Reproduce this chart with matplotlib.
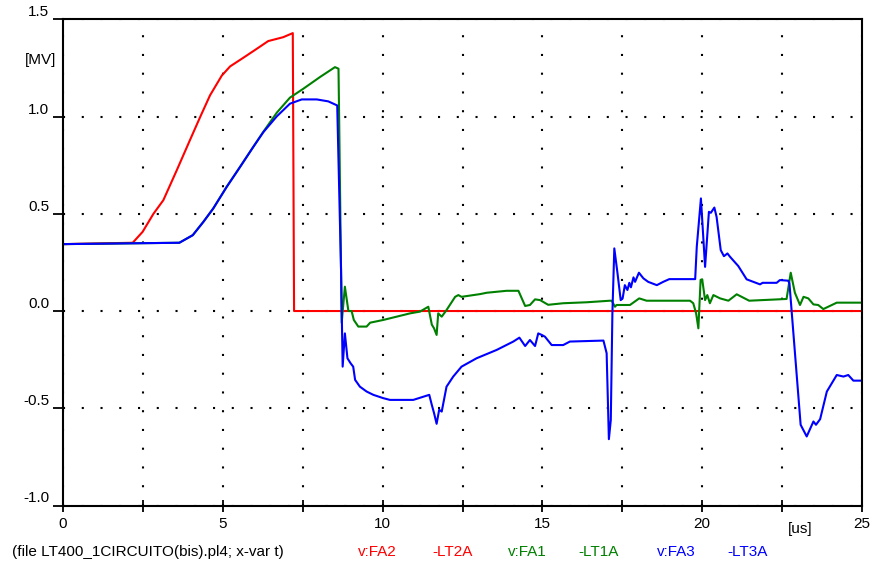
import numpy as np
import matplotlib.pyplot as plt

plt.rcParams['font.family'] = ['Liberation Sans', 'DejaVu Sans']

# v:FA2 -LT2A (red)
t_fa2 = [0.0, 2.18, 2.49, 2.83, 3.14, 3.56, 3.97, 4.29, 4.60, 4.97, 5.23, 5.64,
         6.06, 6.42, 6.89, 7.19, 7.23, 25.0]
v_fa2 = [0.344, 0.351, 0.407, 0.50, 0.57, 0.724, 0.878, 0.997, 1.109, 1.211, 1.258, 1.302,
         1.348, 1.388, 1.408, 1.429, 0.0, 0.0]

# v:FA1 -LT1A (green)
t_fa1 = [0.0, 3.64, 4.06, 4.39, 4.70, 5.12, 5.54, 5.95, 6.27, 6.69, 7.10, 7.52, 8.04,
         8.51, 8.62, 8.64, 8.72, 8.82, 8.93, 9.03, 9.10, 9.24, 9.50, 9.61, 10.02, 10.44,
         10.86, 11.17, 11.43, 11.54, 11.61, 11.69, 11.74, 11.85, 12.0, 12.27, 12.37,
         12.47, 13.05, 13.26, 13.88, 14.25, 14.46, 14.61, 14.77, 14.93, 15.18, 15.65,
         16.39, 17.11, 17.17, 17.27, 17.32, 17.74, 18.03, 18.26, 19.62, 19.72, 19.81,
         19.88, 19.95, 20.0, 20.09, 20.16, 20.24, 20.35, 20.56, 20.82, 21.08, 21.47,
         22.64, 22.77, 22.90, 23.06, 23.17, 23.32, 23.48, 23.63, 23.79, 24.21, 25.0]
v_fa1 = [0.344, 0.351, 0.39, 0.458, 0.527, 0.638, 0.741, 0.843, 0.922, 1.02, 1.097,
         1.143, 1.203, 1.254, 1.246, 1.0, -0.06, 0.125, 0.0, 0.0, -0.046, -0.08, -0.08,
         -0.06, -0.046, -0.029, -0.012, -0.003, 0.022, -0.07, -0.089, -0.123, -0.012,
         -0.029, 0.005, 0.073, 0.082, 0.073, 0.087, 0.094, 0.104, 0.104, 0.026, 0.031,
         0.06, 0.056, 0.032, 0.04, 0.045, 0.053, 0.053, 0.022, 0.031, 0.031, 0.065,
         0.053, 0.053, 0.04, -0.012, -0.089, 0.16, 0.163, 0.056, 0.082, 0.04, 0.082,
         0.065, 0.053, 0.086, 0.053, 0.062, 0.197, 0.094, 0.031, 0.073, 0.065, 0.034,
         0.031, 0.01, 0.043, 0.043]

# v:FA3 -LT3A (blue)
t_fa3 = [0.0, 3.64, 4.06, 4.39, 4.70, 5.12, 5.54, 5.95, 6.27, 6.69, 7.10, 7.47, 7.94,
         8.30, 8.58, 8.70, 8.75, 8.82, 8.90, 9.0, 9.08, 9.14, 9.29, 9.50, 9.71, 10.02,
         10.23, 10.96, 11.46, 11.54, 11.61, 11.69, 11.77, 11.85, 12.0, 12.21, 12.47,
         12.94, 13.57, 14.09, 14.28, 14.46, 14.61, 14.77, 14.87, 14.98, 15.08, 15.29,
         15.65, 15.86, 16.91, 17.01, 17.08, 17.14, 17.19, 17.25, 17.35, 17.45, 17.51,
         17.58, 17.66, 17.72, 17.77, 17.85, 17.90, 18.02, 18.16, 18.31, 18.58, 18.78,
         18.97, 19.78, 19.83, 19.96, 20.09, 20.21, 20.27, 20.38, 20.45, 20.58, 20.68,
         20.79, 20.87, 21.13, 21.39, 21.81, 21.89, 22.33, 22.43, 22.69, 22.73, 23.08,
         23.27, 23.48, 23.56, 23.69, 23.90, 24.21, 24.42, 24.57, 24.73, 25.0]
v_fa3 = [0.344, 0.351, 0.39, 0.458, 0.527, 0.638, 0.741, 0.843, 0.92, 1.001, 1.066,
         1.088, 1.088, 1.078, 1.057, 0.21, -0.286, -0.115, -0.243, -0.269, -0.286,
         -0.354, -0.389, -0.414, -0.431, -0.448, -0.457, -0.457, -0.431, -0.483, -0.525,
         -0.58, -0.508, -0.517, -0.389, -0.337, -0.286, -0.243, -0.2, -0.157, -0.137,
         -0.18, -0.149, -0.18, -0.115, -0.123, -0.132, -0.175, -0.175, -0.157, -0.152,
         -0.217, -0.659, -0.56, -0.012, 0.322, 0.194, 0.056, 0.065, 0.133, 0.108, 0.145,
         0.122, 0.173, 0.15, 0.197, 0.168, 0.15, 0.133, 0.15, 0.164, 0.164, 0.33, 0.579,
         0.227, 0.51, 0.505, 0.532, 0.484, 0.313, 0.282, 0.296, 0.279, 0.231, 0.163,
         0.137, 0.145, 0.145, 0.159, 0.156, 0.142, -0.585, -0.645, -0.568, -0.585,
         -0.556, -0.414, -0.329, -0.337, -0.329, -0.358, -0.358]

x_ticks = [0, 2.5, 5, 7.5, 10, 12.5, 15, 17.5, 20, 22.5, 25]
x_labels = ['0', '', '5', '', '10', '', '15', '', '20', '', '25']
y_ticks = [-1.0, -0.5, 0.0, 0.5, 1.0, 1.5]
y_labels = ['-1.0', '-0.5', '0.0', '0.5', '1.0', '1.5']

fig = plt.figure(figsize=(8.72, 5.62), dpi=100)
ax = fig.add_axes([63 / 872, 1 - 505.5 / 562, 799 / 872, (505.5 - 19.3) / 562])

ax.plot(t_fa2, v_fa2, color='#ff0000', lw=1.5)
ax.plot(t_fa1, v_fa1, color='#008000', lw=1.5)
ax.plot(t_fa3, v_fa3, color='#0000ff', lw=1.5)

ax.set_xlim(0, 25)
ax.set_ylim(-1.0, 1.5)
ax.set_xticks(x_ticks)
ax.set_xticklabels(x_labels, fontsize=11)
ax.set_yticks(y_ticks)
ax.set_yticklabels(y_labels, fontsize=11, va='bottom')

for s in ax.spines.values():
    s.set_linewidth(1.5)
ax.tick_params(axis='x', direction='inout', length=9, width=1.3, pad=4)
ax.tick_params(axis='y', direction='out', length=7.5, width=1.3, pad=2.5)

ax.grid(True, color='black', linestyle=(0, (1, 8)), linewidth=1.5)
ax.set_axisbelow(True)

fig.text(56 / 872, 1 - 60 / 562, '[MV]', ha='right', va='center', fontsize=11)
fig.text(788 / 872, 1 - 529 / 562, '[us]', ha='left', va='center', fontsize=11)

# bottom caption, coloured per signal
cap_y = 1 - 552 / 562
fig.text(12 / 872, cap_y, '(file LT400_1CIRCUITO(bis).pl4; x-var t)', color='black',
         va='center', fontsize=11)
fig.text(358 / 872, cap_y, 'v:FA2', color='#ff0000', va='center', fontsize=11)
fig.text(432 / 872, cap_y, '-LT2A', color='#ff0000', va='center', fontsize=11)
fig.text(508 / 872, cap_y, 'v:FA1', color='#008000', va='center', fontsize=11)
fig.text(578 / 872, cap_y, '-LT1A', color='#008000', va='center', fontsize=11)
fig.text(657 / 872, cap_y, 'v:FA3', color='#0000ff', va='center', fontsize=11)
fig.text(727 / 872, cap_y, '-LT3A', color='#0000ff', va='center', fontsize=11)

fig.savefig('out.png', dpi=100)
